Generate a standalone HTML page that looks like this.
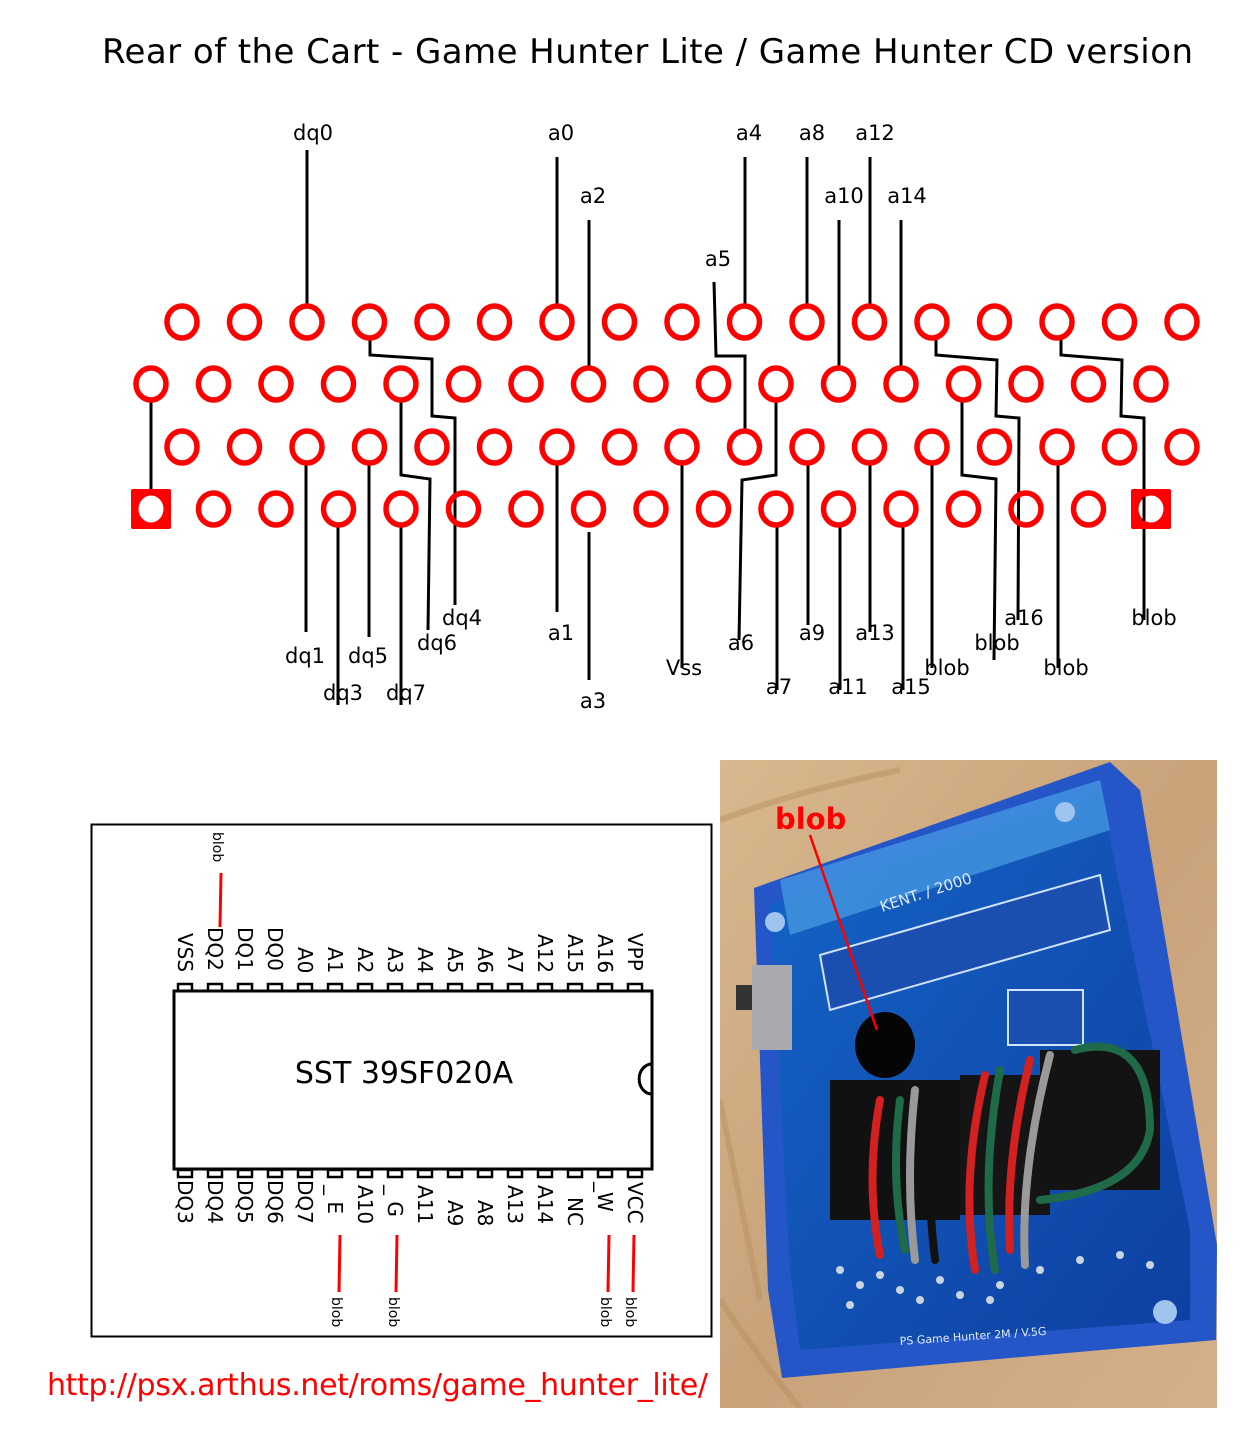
<!DOCTYPE html>
<html><head><meta charset="utf-8"><style>
html,body{margin:0;padding:0;background:#fff;}
svg{display:block;font-family:"DejaVu Sans","Liberation Sans",sans-serif;}
</style></head><body>
<svg width="1252" height="1443" viewBox="0 0 1252 1443" xmlns="http://www.w3.org/2000/svg">
<rect width="1252" height="1443" fill="#fff"/>
<text x="102" y="63" font-size="34" textLength="1091" fill="#000">Rear of the Cart - Game Hunter Lite / Game Hunter CD version</text>

<g stroke="#000" stroke-width="3" fill="none">
<line x1="307" y1="150" x2="307" y2="305"/>
<line x1="557" y1="157" x2="557" y2="305"/>
<line x1="589" y1="220" x2="589" y2="368"/>
<line x1="745" y1="157" x2="745" y2="305"/>
<line x1="807" y1="157" x2="807" y2="305"/>
<line x1="870" y1="157" x2="870" y2="305"/>
<line x1="839" y1="220" x2="839" y2="368"/>
<line x1="901" y1="220" x2="901" y2="368"/>
<polyline points="714,282 716,356 745,356 745,430"/>
<line x1="151" y1="400" x2="151" y2="494"/>
<polyline points="370,338 370,355 432,359 432,416 455,418 455,605"/>
<polyline points="401,400 401,475 430,479 428,630"/>
<line x1="306" y1="462" x2="306" y2="632"/>
<line x1="338" y1="525" x2="338" y2="705"/>
<line x1="369" y1="462" x2="369" y2="637"/>
<line x1="401" y1="525" x2="401" y2="705"/>
<line x1="557" y1="462" x2="557" y2="612"/>
<line x1="589" y1="532" x2="589" y2="680"/>
<line x1="682" y1="462" x2="682" y2="668"/>
<polyline points="776,400 776,475 742,480 739,640"/>
<line x1="777" y1="525" x2="777" y2="690"/>
<line x1="808" y1="462" x2="808" y2="625"/>
<line x1="840" y1="525" x2="840" y2="690"/>
<line x1="870" y1="462" x2="870" y2="632"/>
<line x1="903" y1="525" x2="903" y2="690"/>
<line x1="932" y1="462" x2="932" y2="668"/>
<polyline points="962,400 962,475 996,479 994,660"/>
<polyline points="936,338 936,355 997,360 996,416 1019,418 1018,620"/>
<line x1="1058" y1="462" x2="1058" y2="668"/>
<polyline points="1061,338 1061,355 1122,360 1121,416 1144,418 1144,620"/>
</g>

<g font-size="21" fill="#000" text-anchor="middle">
<text x="313" y="140">dq0</text>
<text x="561" y="140">a0</text>
<text x="593" y="203">a2</text>
<text x="749" y="140">a4</text>
<text x="812" y="140">a8</text>
<text x="875" y="140">a12</text>
<text x="844" y="203">a10</text>
<text x="907" y="203">a14</text>
<text x="718" y="266">a5</text>
<text x="462" y="625">dq4</text>
<text x="437" y="650">dq6</text>
<text x="305" y="663">dq1</text>
<text x="368" y="663">dq5</text>
<text x="343" y="700">dq3</text>
<text x="406" y="700">dq7</text>
<text x="561" y="640">a1</text>
<text x="593" y="708">a3</text>
<text x="684" y="675">Vss</text>
<text x="741" y="650">a6</text>
<text x="779" y="694">a7</text>
<text x="812" y="640">a9</text>
<text x="875" y="640">a13</text>
<text x="848" y="694">a11</text>
<text x="911" y="694">a15</text>
<text x="947" y="675">blob</text>
<text x="997" y="650">blob</text>
<text x="1024" y="625">a16</text>
<text x="1066" y="675">blob</text>
<text x="1154" y="625">blob</text>
</g>

<rect x="131" y="489" width="40" height="40" rx="2" fill="#f00"/>
<rect x="1131" y="489" width="40" height="40" rx="2" fill="#f00"/>
<g fill="none" stroke="#f00" stroke-width="5.5">
<g id="r1">
<ellipse cx="182" cy="322" rx="15" ry="16"/><ellipse cx="244.5" cy="322" rx="15" ry="16"/><ellipse cx="307" cy="322" rx="15" ry="16"/><ellipse cx="369.5" cy="322" rx="15" ry="16"/><ellipse cx="432" cy="322" rx="15" ry="16"/><ellipse cx="494.5" cy="322" rx="15" ry="16"/><ellipse cx="557" cy="322" rx="15" ry="16"/><ellipse cx="619.5" cy="322" rx="15" ry="16"/><ellipse cx="682" cy="322" rx="15" ry="16"/><ellipse cx="744.5" cy="322" rx="15" ry="16"/><ellipse cx="807" cy="322" rx="15" ry="16"/><ellipse cx="869.5" cy="322" rx="15" ry="16"/><ellipse cx="932" cy="322" rx="15" ry="16"/><ellipse cx="994.5" cy="322" rx="15" ry="16"/><ellipse cx="1057" cy="322" rx="15" ry="16"/><ellipse cx="1119.5" cy="322" rx="15" ry="16"/><ellipse cx="1182" cy="322" rx="15" ry="16"/>
</g>
<use href="#r1" transform="translate(0,125)"/>
<g id="r2">
<ellipse cx="151" cy="384" rx="15" ry="16"/><ellipse cx="213.5" cy="384" rx="15" ry="16"/><ellipse cx="276" cy="384" rx="15" ry="16"/><ellipse cx="338.5" cy="384" rx="15" ry="16"/><ellipse cx="401" cy="384" rx="15" ry="16"/><ellipse cx="463.5" cy="384" rx="15" ry="16"/><ellipse cx="526" cy="384" rx="15" ry="16"/><ellipse cx="588.5" cy="384" rx="15" ry="16"/><ellipse cx="651" cy="384" rx="15" ry="16"/><ellipse cx="713.5" cy="384" rx="15" ry="16"/><ellipse cx="776" cy="384" rx="15" ry="16"/><ellipse cx="838.5" cy="384" rx="15" ry="16"/><ellipse cx="901" cy="384" rx="15" ry="16"/><ellipse cx="963.5" cy="384" rx="15" ry="16"/><ellipse cx="1026" cy="384" rx="15" ry="16"/><ellipse cx="1088.5" cy="384" rx="15" ry="16"/><ellipse cx="1151" cy="384" rx="15" ry="16"/>
</g>
<use href="#r2" transform="translate(0,125)"/>
</g>
<ellipse cx="151" cy="509" rx="12.5" ry="13.5" fill="#fff"/>
<ellipse cx="1151" cy="509" rx="12.5" ry="13.5" fill="#fff"/>
<line x1="1144" y1="497" x2="1144" y2="521" stroke="#000" stroke-width="3"/>

<rect x="91.5" y="824.5" width="620" height="512" fill="none" stroke="#000" stroke-width="2"/>
<rect x="174" y="991" width="478" height="178" fill="#fff" stroke="#000" stroke-width="3"/>
<path d="M652,1064 a12,14 0 0 0 0,30" fill="none" stroke="#000" stroke-width="3"/>
<text x="404" y="1083" font-size="30" text-anchor="middle" fill="#000">SST 39SF020A</text>
<g fill="none" stroke="#000" stroke-width="2.5">
<g id="pt">
<rect x="178" y="984" width="14" height="7"/><rect x="208" y="984" width="14" height="7"/><rect x="238" y="984" width="14" height="7"/><rect x="268" y="984" width="14" height="7"/><rect x="298" y="984" width="14" height="7"/><rect x="328" y="984" width="14" height="7"/><rect x="358" y="984" width="14" height="7"/><rect x="388" y="984" width="14" height="7"/><rect x="418" y="984" width="14" height="7"/><rect x="448" y="984" width="14" height="7"/><rect x="478" y="984" width="14" height="7"/><rect x="508" y="984" width="14" height="7"/><rect x="538" y="984" width="14" height="7"/><rect x="568" y="984" width="14" height="7"/><rect x="598" y="984" width="14" height="7"/><rect x="628" y="984" width="14" height="7"/>
</g>
<use href="#pt" transform="translate(0,186)"/>
</g>
<g font-size="20" fill="#000">
<text transform="translate(178,933) rotate(90)">VSS</text>
<text transform="translate(208,927) rotate(90)">DQ2</text>
<text transform="translate(238,927) rotate(90)">DQ1</text>
<text transform="translate(268,927) rotate(90)">DQ0</text>
<text transform="translate(298,947) rotate(90)">A0</text>
<text transform="translate(328,947) rotate(90)">A1</text>
<text transform="translate(358,947) rotate(90)">A2</text>
<text transform="translate(388,947) rotate(90)">A3</text>
<text transform="translate(418,947) rotate(90)">A4</text>
<text transform="translate(448,947) rotate(90)">A5</text>
<text transform="translate(478,947) rotate(90)">A6</text>
<text transform="translate(508,947) rotate(90)">A7</text>
<text transform="translate(538,934) rotate(90)">A12</text>
<text transform="translate(568,934) rotate(90)">A15</text>
<text transform="translate(598,934) rotate(90)">A16</text>
<text transform="translate(628,933) rotate(90)">VPP</text>
<text transform="translate(178,1180) rotate(90)">DQ3</text>
<text transform="translate(208,1180) rotate(90)">DQ4</text>
<text transform="translate(238,1180) rotate(90)">DQ5</text>
<text transform="translate(268,1180) rotate(90)">DQ6</text>
<text transform="translate(298,1180) rotate(90)">DQ7</text>
<text transform="translate(328,1185) rotate(90)">_ E</text>
<text transform="translate(358,1185) rotate(90)">A10</text>
<text transform="translate(388,1185) rotate(90)">_ G</text>
<text transform="translate(418,1185) rotate(90)">A11</text>
<text transform="translate(448,1200) rotate(90)">A9</text>
<text transform="translate(478,1200) rotate(90)">A8</text>
<text transform="translate(508,1185) rotate(90)">A13</text>
<text transform="translate(538,1185) rotate(90)">A14</text>
<text transform="translate(568,1197) rotate(90)">NC</text>
<text transform="translate(598,1182) rotate(90)">_W</text>
<text transform="translate(628,1182) rotate(90)">VCC</text>
</g>
<g stroke="#f00" stroke-width="3">
<line x1="221" y1="873" x2="220" y2="927"/>
<line x1="340" y1="1235" x2="339" y2="1292"/>
<line x1="397" y1="1235" x2="396" y2="1292"/>
<line x1="609" y1="1235" x2="608" y2="1292"/>
<line x1="634" y1="1235" x2="633" y2="1292"/>
</g>
<g font-size="14" fill="#000">
<text transform="translate(213,832) rotate(90)">blob</text>
<text transform="translate(332,1297) rotate(90)">blob</text>
<text transform="translate(389,1297) rotate(90)">blob</text>
<text transform="translate(601,1297) rotate(90)">blob</text>
<text transform="translate(626,1297) rotate(90)">blob</text>
</g>
<text x="47" y="1395" font-size="30" fill="#f00" textLength="661">http://psx.arthus.net/roms/game_hunter_lite/</text>

<defs>
<linearGradient id="wood" x1="0" y1="0" x2="1" y2="1">
<stop offset="0" stop-color="#d8b88e"/><stop offset="0.5" stop-color="#c9a27a"/><stop offset="1" stop-color="#d4b08a"/>
</linearGradient>
<linearGradient id="pcb" x1="0" y1="0" x2="1" y2="1">
<stop offset="0" stop-color="#1565c8"/><stop offset="1" stop-color="#0d3fa0"/>
</linearGradient>
<clipPath id="ph"><rect x="720" y="760" width="497" height="648"/></clipPath>
</defs>
<g clip-path="url(#ph)">
<rect x="720" y="760" width="497" height="648" fill="url(#wood)"/>
<g stroke="#b88f62" stroke-width="6" opacity="0.5" fill="none">
<path d="M720,820 Q800,790 900,770"/><path d="M720,1300 Q760,1360 800,1408"/><path d="M1150,1300 L1217,1250"/><path d="M720,1100 Q740,1200 760,1300"/>
</g>
<polygon points="754,888 1110,762 1140,790 1217,1245 1216,1340 782,1378 768,1290" fill="#2456c8"/>
<polygon points="770,905 1100,790 1190,1230 1190,1320 800,1350 790,1270" fill="url(#pcb)"/>
<polygon points="780,880 1100,780 1110,830 790,935" fill="#4aa0e6" opacity="0.7"/>
<polygon points="820,955 1100,875 1110,930 830,1010" fill="#1a4fb0" stroke="#cfe3ff" stroke-width="2"/>
<rect x="736" y="985" width="20" height="25" fill="#333"/>
<rect x="752" y="965" width="40" height="85" fill="#a9a9b0"/>
<rect x="1008" y="990" width="75" height="55" fill="#1a4fb0" stroke="#d0e4ff" stroke-width="2"/>
<ellipse cx="885" cy="1045" rx="30" ry="33" fill="#050505"/>
<rect x="830" y="1080" width="130" height="140" fill="#111"/>
<rect x="960" y="1075" width="90" height="140" fill="#151515"/>
<rect x="1040" y="1050" width="120" height="140" fill="#131313"/>
<g fill="none" stroke-width="8" stroke-linecap="round">
<path d="M880,1100 Q865,1180 880,1255" stroke="#d32020"/>
<path d="M900,1100 Q890,1180 905,1250" stroke="#1f6a48"/>
<path d="M915,1090 Q905,1180 915,1260" stroke="#999"/>
<path d="M935,1085 Q925,1180 935,1260" stroke="#111"/>
<path d="M985,1075 Q960,1180 975,1270" stroke="#d32020"/>
<path d="M1000,1070 Q980,1180 995,1270" stroke="#1f6a48"/>
<path d="M1030,1060 Q1005,1160 1010,1250" stroke="#d32020"/>
<path d="M1050,1055 Q1020,1170 1025,1265" stroke="#999"/>
<path d="M1075,1050 Q1150,1030 1150,1130 Q1140,1190 1040,1200" stroke="#1f6a48"/>
</g>
<g fill="#c8d4e0">
<circle cx="840" cy="1270" r="4"/><circle cx="860" cy="1285" r="4"/><circle cx="880" cy="1275" r="4"/><circle cx="900" cy="1290" r="4"/><circle cx="940" cy="1280" r="4"/><circle cx="960" cy="1295" r="4"/><circle cx="1000" cy="1285" r="4"/><circle cx="1040" cy="1270" r="4"/><circle cx="1080" cy="1260" r="4"/><circle cx="1120" cy="1255" r="4"/><circle cx="1150" cy="1265" r="4"/><circle cx="850" cy="1305" r="4"/><circle cx="920" cy="1300" r="4"/><circle cx="990" cy="1300" r="4"/>
</g>
<circle cx="1165" cy="1312" r="12" fill="#9fc4f0"/>
<circle cx="775" cy="922" r="10" fill="#9fc4f0"/>
<circle cx="1065" cy="812" r="10" fill="#9fc4f0"/>
<text x="900" y="1345" font-size="11" fill="#e0ecff" transform="rotate(-4 900 1345)">PS Game Hunter 2M / V.5G</text>
<text x="882" y="912" font-size="15" fill="#e0ecff" transform="rotate(-18 882 912)">KENT. / 2000</text>
<line x1="810" y1="835" x2="877" y2="1030" stroke="#f00" stroke-width="2.5"/>
<text x="775" y="829" font-size="29" font-weight="bold" fill="#f00">blob</text>
</g>
</svg>
</body></html>
